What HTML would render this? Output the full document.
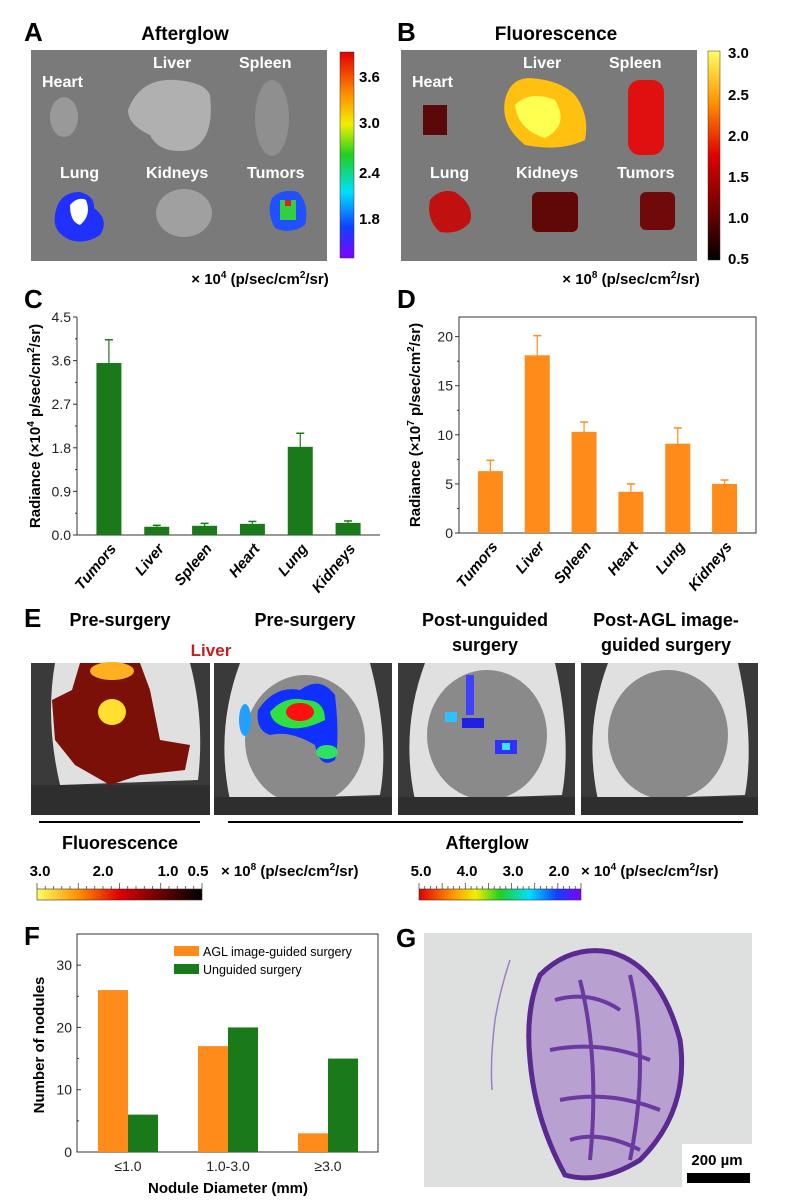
<!DOCTYPE html>
<html><head><meta charset="utf-8"><style>
html,body{margin:0;padding:0;background:#fff;}
svg{display:block;font-family:"Liberation Sans",Arial,sans-serif;}
.b{font-weight:bold;}
</style></head><body>
<svg id="fig" width="812" height="1203" viewBox="0 0 812 1203" xmlns="http://www.w3.org/2000/svg">
<defs>
<linearGradient id="gA" x1="0" y1="0" x2="0" y2="1"><stop offset="0" stop-color="#e00000"/><stop offset="0.2" stop-color="#ff8c00"/><stop offset="0.35" stop-color="#f0f000"/><stop offset="0.5" stop-color="#20d020"/><stop offset="0.68" stop-color="#00e0ff"/><stop offset="0.85" stop-color="#1040ff"/><stop offset="1" stop-color="#8000ff"/></linearGradient>
<linearGradient id="gB" x1="0" y1="0" x2="0" y2="1"><stop offset="0" stop-color="#ffff60"/><stop offset="0.25" stop-color="#ff9000"/><stop offset="0.5" stop-color="#e00000"/><stop offset="0.8" stop-color="#600000"/><stop offset="1" stop-color="#000"/></linearGradient>
<linearGradient id="gEF" x1="0" y1="0" x2="1" y2="0"><stop offset="0" stop-color="#ffff60"/><stop offset="0.25" stop-color="#ff9000"/><stop offset="0.5" stop-color="#e00000"/><stop offset="0.8" stop-color="#500000"/><stop offset="1" stop-color="#000"/></linearGradient>
<linearGradient id="gEA" x1="0" y1="0" x2="1" y2="0"><stop offset="0" stop-color="#e00000"/><stop offset="0.2" stop-color="#ff9000"/><stop offset="0.35" stop-color="#f0f000"/><stop offset="0.5" stop-color="#20d020"/><stop offset="0.68" stop-color="#00e0ff"/><stop offset="0.85" stop-color="#1040ff"/><stop offset="1" stop-color="#8000ff"/></linearGradient>
</defs>

<!-- Panel A -->
<text x="24" y="41" class="b" font-size="26">A</text>
<text x="185" y="40" class="b" font-size="19" text-anchor="middle">Afterglow</text>
<rect x="31" y="50" width="296" height="211" fill="#7a7a7a"/>
<g fill="#fff" font-size="16" class="b">
<text x="42" y="87">Heart</text><text x="153" y="68">Liver</text><text x="239" y="68">Spleen</text>
<text x="60" y="178">Lung</text><text x="146" y="178">Kidneys</text><text x="247" y="178">Tumors</text></g>
<ellipse cx="64" cy="117" rx="14" ry="20" fill="#999"/>
<path d="M128 110 Q140 78 175 80 Q205 82 210 95 Q215 140 190 150 Q160 155 150 135 Q128 125 128 110Z" fill="#b0b0b0"/>
<ellipse cx="272" cy="118" rx="17" ry="38" fill="#8f8f8f"/>
<path d="M55 215 Q58 192 80 192 Q95 196 94 208 Q110 220 100 235 Q85 245 70 240 Q52 232 55 215Z" fill="#2030ff"/>
<path d="M70 205 Q78 196 86 200 Q92 215 80 225 Q70 222 70 205Z" fill="#fff"/>
<ellipse cx="184" cy="213" rx="28" ry="24" fill="#a0a0a0"/>
<path d="M272 198 Q282 188 298 192 Q310 205 305 225 Q290 235 275 228 Q266 212 272 198Z" fill="#2050ff"/>
<rect x="280" y="200" width="16" height="20" fill="#30d040"/><rect x="285" y="200" width="6" height="6" fill="#e02020"/>
<rect x="340" y="52" width="14" height="206" fill="url(#gA)" stroke="#333" stroke-width="0.5"/>
<g font-size="15" class="b">
<text x="359" y="82">3.6</text><text x="359" y="128">3.0</text><text x="359" y="178">2.4</text><text x="359" y="224">1.8</text></g>
<text x="260" y="284" class="b" font-size="15" text-anchor="middle">× 10<tspan font-size="10" dy="-6">4</tspan><tspan dy="6"> (p/sec/cm</tspan><tspan font-size="10" dy="-6">2</tspan><tspan dy="6">/sr)</tspan></text>

<!-- Panel B -->
<text x="397" y="41" class="b" font-size="26">B</text>
<text x="556" y="40" class="b" font-size="19" text-anchor="middle">Fluorescence</text>
<rect x="401" y="50" width="296" height="211" fill="#7a7a7a"/>
<path d="M505 100 Q510 78 530 78 Q560 80 575 95 Q590 115 585 140 Q560 152 525 145 Q500 125 505 100Z" fill="#ffc010"/>
<path d="M515 105 Q530 90 555 100 Q570 125 545 138 Q518 130 515 105Z" fill="#ffff50"/>
<rect x="628" y="80" width="36" height="75" rx="12" fill="#e01010"/>
<rect x="423" y="105" width="24" height="30" fill="#5a0808"/>
<path d="M430 200 Q440 188 455 192 Q475 205 470 222 Q460 235 440 232 Q426 220 430 200Z" fill="#c01010"/>
<rect x="532" y="192" width="46" height="40" rx="6" fill="#600808"/>
<rect x="640" y="192" width="35" height="38" rx="6" fill="#700a0a"/>
<g fill="#fff" font-size="16" class="b">
<text x="412" y="87">Heart</text><text x="523" y="68">Liver</text><text x="609" y="68">Spleen</text>
<text x="430" y="178">Lung</text><text x="516" y="178">Kidneys</text><text x="617" y="178">Tumors</text></g>
<rect x="708" y="51" width="12" height="209" fill="url(#gB)" stroke="#333" stroke-width="0.5"/>
<g font-size="15" class="b">
<text x="728" y="58">3.0</text><text x="728" y="100">2.5</text><text x="728" y="141">2.0</text><text x="728" y="182">1.5</text><text x="728" y="223">1.0</text><text x="728" y="264">0.5</text></g>
<text x="631" y="284" class="b" font-size="15" text-anchor="middle">× 10<tspan font-size="10" dy="-6">8</tspan><tspan dy="6"> (p/sec/cm</tspan><tspan font-size="10" dy="-6">2</tspan><tspan dy="6">/sr)</tspan></text>

<!-- Panel letters C, D -->
<text x="24" y="308" class="b" font-size="26">C</text>
<text x="397" y="308" class="b" font-size="26">D</text>
<g id="chartC"></g>
<g id="chartD"></g>

<!-- Panel E -->
<text x="24" y="627" class="b" font-size="26">E</text>
<g class="b" font-size="18" text-anchor="middle">
<text x="120" y="626">Pre-surgery</text><text x="305" y="626">Pre-surgery</text>
<text x="485" y="626">Post-unguided</text><text x="485" y="651">surgery</text>
<text x="666" y="626">Post-AGL image-</text><text x="666" y="651">guided surgery</text></g>
<text x="211" y="656" class="b" font-size="17" fill="#c02020" text-anchor="middle">Liver</text>
<g>
<g><rect x="31" y="663" width="179" height="152" fill="#3a3a3a"/><path d="M55 663 L190 663 Q205 720 198 780 L60 785 Q45 720 55 663Z" fill="#e0e0e0"/><rect x="31" y="785" width="179" height="30" fill="#2e2e2e"/>
<path d="M80 663 L140 663 L150 690 L160 740 L190 745 L185 770 L140 775 L110 785 L75 765 L55 740 L52 700 L72 690Z" fill="#7a1008"/><ellipse cx="112" cy="671" rx="22" ry="9" fill="#ffb020"/><ellipse cx="112" cy="712" rx="14" ry="13" fill="#ffe030"/></g>
<g><rect x="214" y="663" width="178" height="152" fill="#3a3a3a"/><path d="M240 663 L370 663 Q390 740 380 795 L230 800 Q215 730 240 663Z" fill="#e0e0e0"/><ellipse cx="305" cy="740" rx="60" ry="65" fill="#8a8a8a"/><rect x="214" y="797" width="178" height="18" fill="#2e2e2e"/>
<path d="M258 710 Q275 685 300 690 Q320 675 335 695 Q340 740 335 760 Q320 770 315 745 Q290 730 270 735 Q255 730 258 710Z" fill="#1030ff"/><path d="M270 712 Q285 695 305 700 Q325 700 325 720 Q305 730 290 728 Q272 725 270 712Z" fill="#30e040"/><ellipse cx="300" cy="712" rx="14" ry="9" fill="#ff1010"/><ellipse cx="245" cy="720" rx="6" ry="16" fill="#20a0ff"/><ellipse cx="327" cy="752" rx="11" ry="7" fill="#30e060"/></g>
<g><rect x="398" y="663" width="177" height="152" fill="#3a3a3a"/><path d="M425 663 L555 663 Q572 740 562 795 L415 800 Q400 730 425 663Z" fill="#e0e0e0"/><ellipse cx="487" cy="735" rx="60" ry="65" fill="#8a8a8a"/><rect x="398" y="797" width="177" height="18" fill="#2e2e2e"/>
<rect x="466" y="675" width="8" height="40" fill="#4040ff"/><rect x="445" y="712" width="12" height="10" fill="#30c0ff"/><rect x="462" y="718" width="22" height="10" fill="#2020e0"/><rect x="495" y="740" width="22" height="14" fill="#3030ff"/><rect x="502" y="743" width="8" height="7" fill="#40e0ff"/></g>
<g><rect x="581" y="663" width="177" height="152" fill="#3a3a3a"/><path d="M608 663 L738 663 Q755 740 745 795 L598 800 Q583 730 608 663Z" fill="#e0e0e0"/><ellipse cx="668" cy="735" rx="60" ry="65" fill="#8a8a8a"/><rect x="581" y="797" width="177" height="18" fill="#2e2e2e"/></g>
</g>
<line x1="39" y1="822" x2="200" y2="822" stroke="#000" stroke-width="2"/>
<line x1="228" y1="822" x2="743" y2="822" stroke="#000" stroke-width="2"/>
<text x="120" y="849" class="b" font-size="18" text-anchor="middle">Fluorescence</text>
<text x="487" y="849" class="b" font-size="18" text-anchor="middle">Afterglow</text>
<g class="b" font-size="15" text-anchor="middle">
<text x="40" y="876">3.0</text><text x="103" y="876">2.0</text><text x="168" y="876">1.0</text><text x="198" y="876">0.5</text>
<text x="421" y="876">5.0</text><text x="467" y="876">4.0</text><text x="513" y="876">3.0</text><text x="559" y="876">2.0</text></g>
<text x="221" y="876" class="b" font-size="15">× 10<tspan font-size="10" dy="-6">8</tspan><tspan dy="6"> (p/sec/cm</tspan><tspan font-size="10" dy="-6">2</tspan><tspan dy="6">/sr)</tspan></text>
<text x="581" y="876" class="b" font-size="15">× 10<tspan font-size="10" dy="-6">4</tspan><tspan dy="6"> (p/sec/cm</tspan><tspan font-size="10" dy="-6">2</tspan><tspan dy="6">/sr)</tspan></text>
<rect x="37" y="889" width="165" height="11" fill="url(#gEF)" stroke="#333" stroke-width="0.6"/>
<rect x="419" y="889" width="162" height="11" fill="url(#gEA)" stroke="#333" stroke-width="0.6"/>
<g id="cbticks" stroke="#333" stroke-width="0.7"></g>

<!-- Panel F -->
<text x="24" y="945" class="b" font-size="26">F</text>
<g id="chartF"></g>

<!-- Panel G -->
<text x="396" y="947" class="b" font-size="26">G</text>
<rect x="424" y="933" width="328" height="254" fill="#dde0df"/>
<path d="M540 975 Q570 945 610 952 Q660 965 680 1040 Q690 1110 640 1160 Q600 1185 565 1175 Q535 1120 530 1060 Q525 1010 540 975Z" fill="#b8a0d0" stroke="#5a2a90" stroke-width="5"/>
<path d="M555 1000 Q590 990 620 1010 M550 1050 Q600 1040 650 1060 M560 1100 Q610 1090 660 1110 M570 1140 Q600 1130 640 1150 M580 980 Q600 1060 590 1160 M630 975 Q650 1060 630 1160" stroke="#6a3aa0" stroke-width="4" fill="none"/>
<path d="M510 960 Q500 990 495 1020 Q490 1060 492 1090" stroke="#9a80c0" stroke-width="1.5" fill="none"/>
<rect x="682" y="1144" width="70" height="43" fill="#fff"/>
<text x="717" y="1165" class="b" font-size="15" text-anchor="middle">200 µm</text>
<rect x="687" y="1173" width="63" height="10" fill="#000"/>
</svg>
<script>
// Chart C data
var catsC = ["Tumors","Liver","Spleen","Heart","Lung","Kidneys"];
var valsC = [3.55,0.17,0.19,0.23,1.82,0.25];
var errC = [0.48,0.03,0.05,0.05,0.28,0.04];
var ticksC = ["0.0","0.9","1.8","2.7","3.6","4.5"];
// Chart D data
var catsD = ["Tumors","Liver","Spleen","Heart","Lung","Kidneys"];
var valsD = [6.3,18.1,10.3,4.2,9.1,5.0];
var errD = [1.1,2.0,1.0,0.8,1.6,0.4];
var ticksD = ["0","5","10","15","20"];
// Chart F data
var catsF = ["≤1.0","1.0-3.0","≥3.0"];
var guidedF = [26,17,3];
var unguidedF = [6,20,15];
var ticksF = ["0","10","20","30"];

var NS="http://www.w3.org/2000/svg";
function mk(parent,tag,attrs,txt){var e=document.createElementNS(NS,tag);for(var k in attrs)e.setAttribute(k,attrs[k]);if(txt!==undefined)e.textContent=txt;parent.appendChild(e);return e;}

function barChart(gid,cats,vals,errs,ticks,o){
  var g=document.getElementById(gid);
  var y=function(v){return o.y0-(v/o.max)*(o.y0-o.y1);};
  var band=(o.x1-o.x0)/cats.length;
  var x=function(i){return o.x0+o.pad+band*(i+0.5)*(1-2*o.pad/(o.x1-o.x0));};
  if(o.frame){var fr=mk(g,'rect',{x:o.x0,y:o.y1,width:o.x1-o.x0,height:o.y0-o.y1,fill:'none',stroke:'#333','stroke-width':1});
    
    }
  else{var ax=mk(g,'path',{d:'M'+o.x0+' '+o.y1+'V'+o.y0+'H'+o.x1,fill:'none',stroke:'#333','stroke-width':1});
    
    }
  for(var t=0;t<ticks.length;t++){var v=parseFloat(ticks[t]);var yy=y(v);
    mk(g,'line',{x1:o.x0-4,x2:o.x0,y1:yy,y2:yy,stroke:'#333'});
    var tl=mk(g,'text',{x:o.x0-6,y:yy+5,'text-anchor':'end','font-size':14,fill:'#222'},ticks[t]);
    
    
    if(t<ticks.length-1){var vm=(v+parseFloat(ticks[t+1]))/2;mk(g,'line',{x1:o.x0-2,x2:o.x0,y1:y(vm),y2:y(vm),stroke:'#333'});}
  }
  for(var i=0;i<cats.length;i++){var cx=x(i);
    var b=mk(g,'rect',{x:cx-o.bw/2,y:y(vals[i]),width:o.bw,height:o.y0-y(vals[i]),fill:o.color});
    
    
    var ye=y(vals[i]+errs[i]);
    mk(g,'line',{x1:cx,x2:cx,y1:y(vals[i]),y2:ye,stroke:o.color,'stroke-width':1.2});
    mk(g,'line',{x1:cx-4,x2:cx+4,y1:ye,y2:ye,stroke:o.color,'stroke-width':1.5});
    var cl=mk(g,'text',{x:cx+8,y:o.y0+14,'text-anchor':'end','font-size':15,'font-weight':'bold','font-style':'italic',transform:'rotate(-50 '+(cx+8)+' '+(o.y0+14)+')'},cats[i]);
    
    
  }
  var tt=mk(g,'text',{x:o.tx,y:(o.y0+o.y1)/2,'text-anchor':'middle','font-size':15,'font-weight':'bold',transform:'rotate(-90 '+o.tx+' '+(o.y0+o.y1)/2+')'});
  
  
  tt.innerHTML='Radiance (×10<tspan font-size="10" dy="-6">'+o.exp+'</tspan><tspan dy="6"> p/sec/cm</tspan><tspan font-size="10" dy="-6">2</tspan><tspan dy="6">/sr)</tspan>';
}
barChart('chartC',catsC,valsC,errC,ticksC,{x0:77,x1:380,y0:535,y1:317,max:4.5,pad:8,bw:25,color:'#1a7a1a',frame:false,tx:40,exp:'4'});
barChart('chartD',catsD,valsD,errD,ticksD,{x0:459,x1:756,y0:533,y1:317,max:22,pad:8,bw:25,color:'#ff8c1a',frame:true,tx:420,exp:'7'});

// Chart F
(function(){
  var g=document.getElementById('chartF');
  var x0=77,x1=378,y0=1152,y1=934,max=35;
  var y=function(v){return y0-(v/max)*(y0-y1);};
  var fr=mk(g,'rect',{x:x0,y:y1,width:x1-x0,height:y0-y1,fill:'none',stroke:'#333'});
  
  
  for(var t=0;t<ticksF.length;t++){var v=parseFloat(ticksF[t]);
    mk(g,'line',{x1:x0,x2:x0+4,y1:y(v),y2:y(v),stroke:'#333'});
    mk(g,'line',{x1:x0,x2:x0+2,y1:y(v+5),y2:y(v+5),stroke:'#333'});
    var tl=mk(g,'text',{x:x0-5,y:y(v)+5,'text-anchor':'end','font-size':14,fill:'#222'},ticksF[t]);
    
    }
  var bw=30;
  for(var i=0;i<catsF.length;i++){var c=128+100*i;
    var b1=mk(g,'rect',{x:c-bw,y:y(guidedF[i]),width:bw,height:y0-y(guidedF[i]),fill:'#ff8c1a'});
    
    
    var b2=mk(g,'rect',{x:c,y:y(unguidedF[i]),width:bw,height:y0-y(unguidedF[i]),fill:'#1a7a1a'});
    
    
    var xl=mk(g,'text',{x:c,y:1171,'text-anchor':'middle','font-size':14,fill:'#222'},catsF[i]);
    
    }
  var xt=mk(g,'text',{x:228,y:1193,'text-anchor':'middle','font-size':15,'font-weight':'bold'},'Nodule Diameter (mm)');
  
  
  var yt=mk(g,'text',{x:44,y:1045,'text-anchor':'middle','font-size':15,'font-weight':'bold',transform:'rotate(-90 44 1045)'},'Number of nodules');
  
  
  var l1=mk(g,'rect',{x:174,y:946,width:25,height:10,fill:'#ff8c1a'});
  
  
  var l1t=mk(g,'text',{x:203,y:956,'font-size':12.5},'AGL image-guided surgery');
  
  
  var l2=mk(g,'rect',{x:174,y:964,width:25,height:10,fill:'#1a7a1a'});
  
  
  var l2t=mk(g,'text',{x:203,y:974,'font-size':12.5},'Unguided surgery');
  
  
})();
// colorbar minor ticks
(function(){var g=document.getElementById('cbticks');
  for(var i=0;i<=20;i++){var xx=37+165*i/20;mk(g,'line',{x1:xx,x2:xx,y1:889,y2:i%5==0?883:886});}
  for(var j=0;j<=28;j++){var xa=419+162*j/28;mk(g,'line',{x1:xa,x2:xa,y1:889,y2:j%4==0?883:886});}
})();
</script>
</body></html>
